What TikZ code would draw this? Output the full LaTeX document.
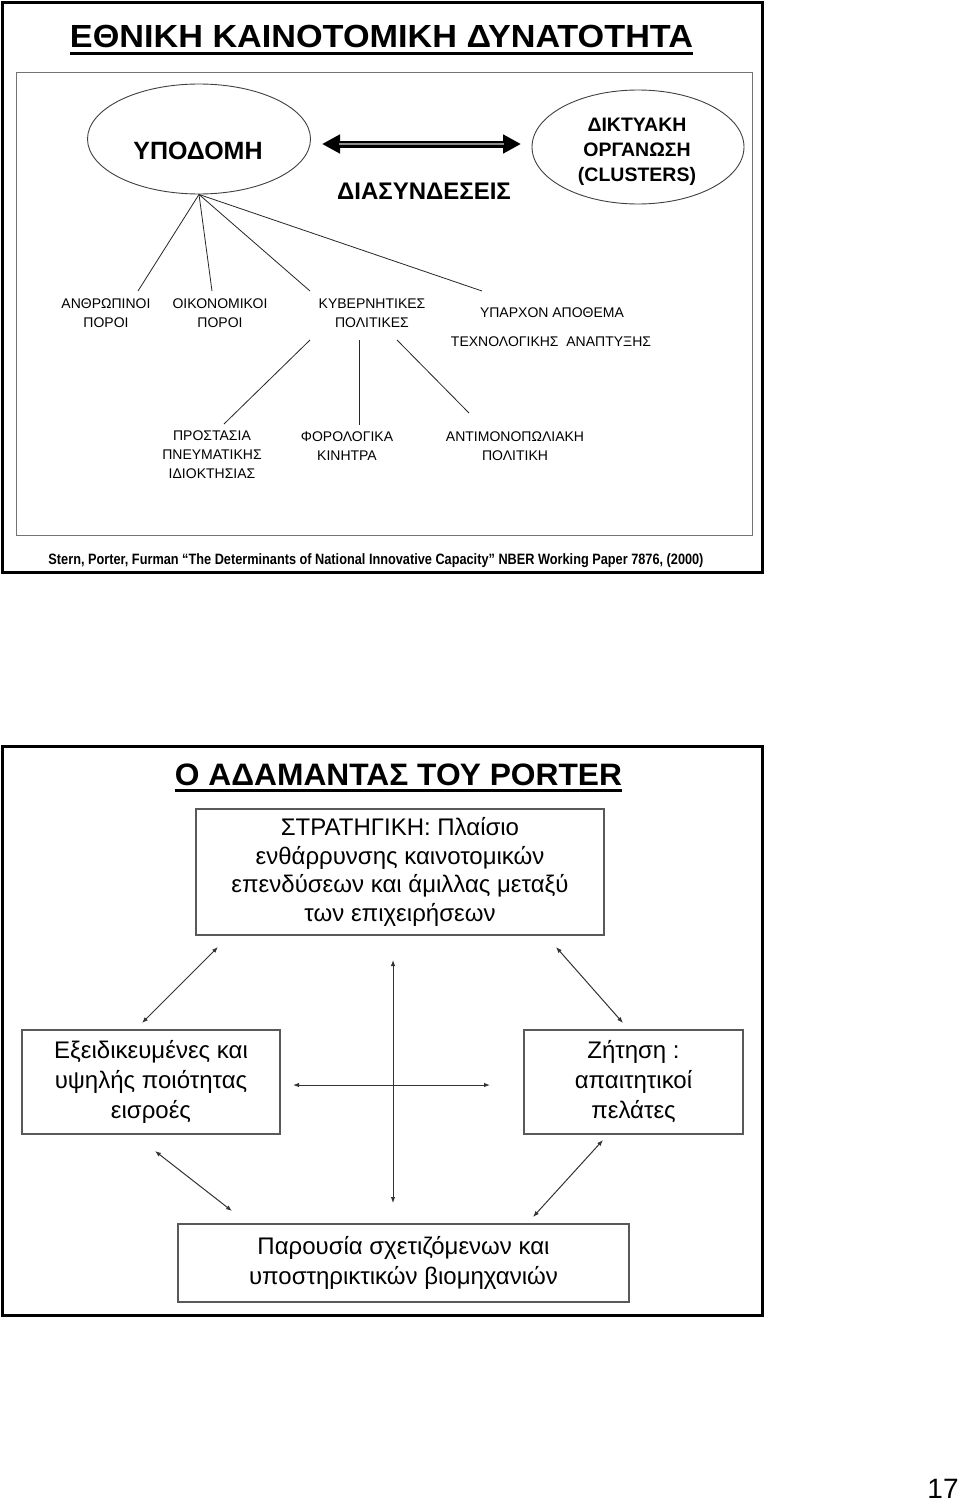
\documentclass[tikz,border=0pt]{standalone}
\usepackage{fontspec}
\setmainfont{Liberation Sans}
\usepackage{graphicx}
\usetikzlibrary{shapes.geometric,arrows.meta}
\newcommand\fitw[2]{\resizebox{#1}{\height}{#2}}
\tikzset{
  frame/.style={draw=black, line width=3pt},
  innerframe/.style={draw=black!55, line width=1pt},
  txt/.style={inner sep=0pt, align=center},
  small/.style={txt, font=\fontsize{14}{19}\selectfont},
  big/.style={txt, font=\fontsize{24}{29}\selectfont},
  boxnode/.style={draw=black!65, line width=1.2pt, inner sep=0pt, align=center, font=\fontsize{24}{30}\selectfont},
  oval/.style={ellipse, draw=black!75, line width=0.9pt, inner sep=0pt},
  branch/.style={draw=black!85, line width=0.8pt},
  darr/.style={draw=black!80, line width=1pt, {Latex[length=6pt,width=4.5pt]}-{Latex[length=6pt,width=4.5pt]}},
}
\begin{document}
\begin{tikzpicture}[x=1pt,y=-1pt]
\useasboundingbox (0,0) rectangle (960,1501);
\fill[white] (0,0) rectangle (960,1501);

% ---------- top panel ----------
\draw[frame] (2,3) rectangle (762,572);
\draw[innerframe] (16,73) rectangle (752,535);

\node[txt, anchor=base, font=\bfseries\fontsize{32}{36}\selectfont] (title1) at (381.5,48) {\fitw{623pt}{ΕΘΝΙΚΗ ΚΑΙΝΟΤΟΜΙΚΗ ΔΥΝΑΤΟΤΗΤΑ}};
\draw[line width=2.5pt] ([yshift=-5.5pt]title1.base west) -- ([yshift=-5.5pt]title1.base east);

\node[oval, minimum width=223pt, minimum height=110pt] (infra) at (199,139) {};
\node[txt, font=\bfseries\fontsize{25}{30}\selectfont] (infraT) at (198,151) {ΥΠΟΔΟΜΗ};
\node[oval, minimum width=212pt, minimum height=114pt] (net) at (638,147) {};
\node[txt, font=\bfseries\fontsize{19.5}{25}\selectfont] (netT) at (637,152) {ΔΙΚΤΥΑΚΗ\\ΟΡΓΑΝΩΣΗ\\(CLUSTERS)};
\node[txt, font=\bfseries\fontsize{24}{28}\selectfont] (links) at (424,191) {ΔΙΑΣΥΝΔΕΣΕΙΣ};

\coordinate (la) at (322,144);
\coordinate (lb) at (521,144);
\draw[line width=7pt, black, {Triangle[length=18pt,width=18pt]}-{Triangle[length=18pt,width=18pt]}] (la) -- (lb);
\draw[line width=2.5pt, black!45, shorten <=17pt, shorten >=17pt] (la) -- (lb);

\node[small] (hum) at (106,313.5) {ΑΝΘΡΩΠΙΝΟΙ\\ΠΟΡΟΙ};
\node[small] (fin) at (220,313.5) {ΟΙΚΟΝΟΜΙΚΟΙ\\ΠΟΡΟΙ};
\node[small] (gov) at (372,313.5) {ΚΥΒΕΡΝΗΤΙΚΕΣ\\ΠΟΛΙΤΙΚΕΣ};
\node[small] (stock1) at (552,313) {ΥΠΑΡΧΟΝ ΑΠΟΘΕΜΑ};
\node[small] (stock2) at (551,342) {ΤΕΧΝΟΛΟΓΙΚΗΣ~~ΑΝΑΠΤΥΞΗΣ};
\node[small] (ip) at (212,455) {ΠΡΟΣΤΑΣΙΑ\\ΠΝΕΥΜΑΤΙΚΗΣ\\ΙΔΙΟΚΤΗΣΙΑΣ};
\node[small] (tax) at (347,446) {ΦΟΡΟΛΟΓΙΚΑ\\ΚΙΝΗΤΡΑ};
\node[small] (anti) at (515,446) {ΑΝΤΙΜΟΝΟΠΩΛΙΑΚΗ\\ΠΟΛΙΤΙΚΗ};

\coordinate (e1) at (138,291);
\coordinate (e2) at (212,291);
\coordinate (e3) at (310,291);
\coordinate (e4) at (482,291);
\foreach \e in {e1,e2,e3,e4} \draw[branch] (infra.south) -- (\e);

\coordinate (g1s) at (310,340); \coordinate (g1e) at (224,424);
\coordinate (g2s) at (359,340); \coordinate (g2e) at (359,425);
\coordinate (g3s) at (397,340); \coordinate (g3e) at (469,413);
\draw[branch] (g1s) -- (g1e);
\draw[branch] (g2s) -- (g2e);
\draw[branch] (g3s) -- (g3e);

\node[txt, anchor=base, font=\bfseries\fontsize{15}{18}\selectfont] (src) at (376,564) {\fitw{655pt}{Stern, Porter, Furman “The Determinants of National Innovative Capacity” NBER Working Paper 7876, (2000)}};

% ---------- bottom panel ----------
\draw[frame] (2,746) rectangle (762,1315);

\node[txt, anchor=base, font=\bfseries\fontsize{31}{36}\selectfont] (title2) at (398.5,785) {\fitw{447pt}{Ο ΑΔΑΜΑΝΤΑΣ ΤΟΥ PORTER}};
\draw[line width=2.5pt] ([yshift=-5.5pt]title2.base west) -- ([yshift=-5.5pt]title2.base east);

\node[boxnode, font=\fontsize{24}{28.5}\selectfont, minimum width=408pt, minimum height=126pt] (strat) at (400,872) {ΣΤΡΑΤΗΓΙΚΗ: Πλαίσιο\\ενθάρρυνσης καινοτομικών\\επενδύσεων και άμιλλας μεταξύ\\των επιχειρήσεων};
\node[boxnode, minimum width=258pt, minimum height=104pt] (inputs) at (151,1082) {Εξειδικευμένες και\\υψηλής ποιότητας\\εισροές};
\node[boxnode, minimum width=219pt, minimum height=104pt] (demand) at (633.5,1082) {Ζήτηση :\\απαιτητικοί\\πελάτες};
\node[boxnode, minimum width=451pt, minimum height=78pt] (rel) at (403.5,1263) {Παρουσία σχετιζόμενων και\\υποστηρικτικών βιομηχανιών};

\coordinate (a1) at (142,1023); \coordinate (a2) at (218,947);
\coordinate (b1) at (556,947);  \coordinate (b2) at (623,1023);
\coordinate (c1) at (155,1151); \coordinate (c2) at (232,1211);
\coordinate (d1) at (603,1140); \coordinate (d2) at (533,1217);
\coordinate (v1) at (393,960);  \coordinate (v2) at (393,1203);
\coordinate (h1) at (293,1085); \coordinate (h2) at (490,1085);
\draw[darr] (a1) -- (a2);
\draw[darr] (b1) -- (b2);
\draw[darr] (c1) -- (c2);
\draw[darr] (d1) -- (d2);
\draw[darr] (v1) -- (v2);
\draw[darr] (h1) -- (h2);

\node[txt, anchor=base, font=\fontsize{28}{32}\selectfont] (page) at (943,1498) {17};
\end{tikzpicture}
\end{document}
